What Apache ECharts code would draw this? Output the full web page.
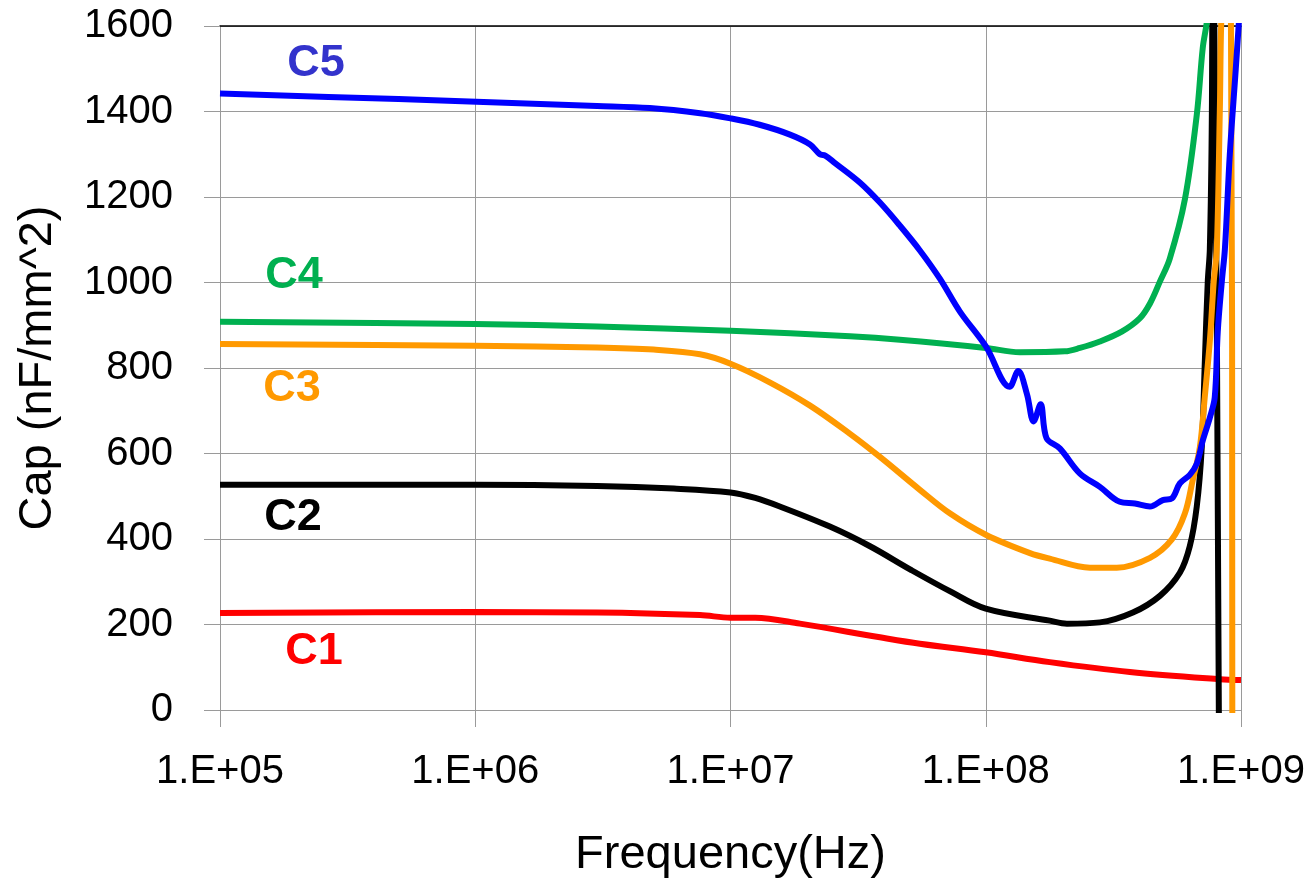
<!DOCTYPE html>
<html>
<head>
<meta charset="utf-8">
<script src="https://cdn.jsdelivr.net/npm/echarts@6/dist/echarts.min.js"></script>
<style>
html,body{margin:0;padding:0;background:#fff;}
#chart{width:1314px;height:884px;}
</style>
</head>
<body>
<div id="chart"></div>
<script>
// ---- Data (frequency in Hz, capacitance in nF/mm^2) ----
var xTickLabels = ['1.E+05', '1.E+06', '1.E+07', '1.E+08', '1.E+09'];
var yTickValues = [0, 200, 400, 600, 800, 1000, 1200, 1400, 1600];
var seriesNames = ['C1', 'C2', 'C3', 'C4', 'C5'];

var c1Freq = [1e5, 1e6, 3e6, 7.6e6, 1e7, 1.25e7, 1.87e7, 3.85e7, 5.52e7, 1e8, 1.78e8, 3.67e8, 8.26e8, 1e9];
var c1Cap  = [227, 229, 228, 222, 216, 216, 202, 170, 155, 135, 112, 89, 72, 70];

var c2Freq = [1e5, 1e6, 3e6, 6e6, 1e7, 1.25e7, 1.56e7, 2.45e7, 3.52e7, 5.05e7, 7.23e7, 1e8, 1.78e8, 2.08e8, 2.8e8, 3.77e8, 4.81e8, 5.76e8, 6.3e8, 6.71e8, 7.02e8, 7.21e8, 7.41e8, 7.55e8, 7.69e8, 7.76e8, 8.22e8];
var c2Cap  = [527, 527, 524, 518, 509, 496, 476, 429, 383, 329, 278, 237, 209, 202, 205, 228, 267, 321, 383, 476, 615, 808, 1002, 1079, 1400, 2000, -200];

var c3Freq = [1e5, 1e6, 3e6, 5e6, 7.6e6, 1e7, 1.43e7, 2.05e7, 2.94e7, 3.85e7, 5.52e7, 7.23e7, 1e8, 1.49e8, 1.78e8, 2.56e8, 3.26e8, 4.4e8, 5.36e8, 6.03e8, 6.47e8, 6.9e8, 7.21e8, 7.55e8, 7.82e8, 8.04e8, 8.26e8, 8.41e8, 9.08e8, 9.25e8];
var c3Cap  = [856, 852, 848, 843, 832, 810, 766, 712, 646, 592, 515, 460, 410, 367, 354, 333, 333, 356, 399, 460, 538, 615, 731, 863, 1002, 1079, 1400, 1650, 2000, -200];

var c4Freq = [1e5, 1e6, 3e6, 1e7, 2.94e7, 4.61e7, 1e8, 1.36e8, 2.04e8, 2.34e8, 2.8e8, 3.41e8, 4.01e8, 4.4e8, 4.81e8, 5.26e8, 6.03e8, 6.71e8, 7.08e8, 7.35e8, 7.6e8];
var c4Cap  = [908, 903, 897, 887, 874, 866, 847, 837, 839, 847, 862, 885, 916, 951, 1002, 1056, 1195, 1392, 1548, 1610, 1700];

var c5Freq = [1e5, 5e5, 3e6, 4.83e6, 7.6e6, 1e7, 1.3e7, 1.71e7, 2.05e7, 2.24e7, 2.35e7, 2.56e7, 3.21e7, 3.85e7, 4.61e7, 5.52e7, 6.61e7, 7.92e7, 1e8, 1.24e8, 1.34e8, 1.45e8, 1.54e8, 1.64e8, 1.73e8, 1.95e8, 2.34e8, 2.8e8, 3.35e8, 3.84e8, 4.4e8, 4.94e8, 5.36e8, 5.76e8, 6.3e8, 6.71e8, 7.08e8, 7.55e8, 7.89e8, 8.11e8, 8.41e8, 8.65e8, 9.04e8, 9.54e8, 9.89e8];
var c5Cap  = [1442, 1429, 1413, 1408, 1396, 1384, 1369, 1346, 1323, 1300, 1297, 1280, 1234, 1187, 1133, 1075, 1009, 932, 851, 756, 793, 739, 675, 715, 636, 612, 553, 522, 487, 483, 476, 491, 495, 530, 550, 576, 630, 684, 731, 886, 1002, 1079, 1300, 1500, 1640];

var lineColors  = ['#ff0000', '#000000', '#ff9900', '#00b050', '#0000ff'];
var labelColors = ['#ff0000', '#000000', '#ff9900', '#00b050', '#3333cc'];

function zip(f, v) { return f.map(function (x, i) { return [x, v[i]]; }); }
var allData = [zip(c1Freq, c1Cap), zip(c2Freq, c2Cap), zip(c3Freq, c3Cap), zip(c4Freq, c4Cap), zip(c5Freq, c5Cap)];

var FONT = '"Liberation Sans", Arial, Helvetica, sans-serif';
var GRID = '#9a9a9a';

var chart = echarts.init(document.getElementById('chart'), null, { renderer: 'canvas' });

// label positions (pixels) for the curve names
var labelPos = [[314, 652], [293, 518], [292, 389], [294, 276], [316, 64]];

var option = {
  backgroundColor: '#ffffff',
  animation: false,
  grid: { left: 220, right: 73, top: 26, bottom: 169, containLabel: false },
  xAxis: [{
    type: 'log',
    logBase: 10,
    min: 1e5,
    max: 1e9,
    name: 'Frequency(Hz)',
    nameLocation: 'middle',
    nameGap: 122,
    nameTextStyle: { fontFamily: FONT, fontSize: 47, color: '#000' },
    axisLine: { show: true, lineStyle: { color: GRID, width: 1 } },
    axisTick: { show: true, inside: false, length: 17, lineStyle: { color: GRID } },
    minorTick: { show: false },
    splitLine: { show: true, lineStyle: { color: GRID, width: 1 } },
    axisLabel: {
      fontFamily: FONT, fontSize: 40, color: '#000', margin: 42,
      formatter: function (v) {
        var e = Math.round(Math.log10(v));
        return xTickLabels[e - 5] || '';
      }
    }
  }, {
    type: 'log',
    logBase: 10,
    min: 1e5,
    max: 1e9,
    position: 'top',
    axisLine: { show: true, lineStyle: { color: '#000', width: 1.5 } },
    axisTick: { show: false },
    axisLabel: { show: false },
    splitLine: { show: false }
  }],
  yAxis: {
    type: 'value',
    min: yTickValues[0],
    max: yTickValues[yTickValues.length - 1],
    interval: 200,
    name: 'Cap (nF/mm^2)',
    nameLocation: 'middle',
    nameGap: 158,
    nameRotate: 90,
    nameTextStyle: { fontFamily: FONT, fontSize: 47, color: '#000' },
    axisLine: { show: true, lineStyle: { color: GRID, width: 1 } },
    axisTick: { show: true, inside: false, length: 16, lineStyle: { color: GRID } },
    splitLine: { show: true, lineStyle: { color: GRID, width: 1 } },
    axisLabel: {
      fontFamily: FONT, fontSize: 40, color: '#000', margin: 47,
      formatter: function (v) { return String(v); }
    }
  },
  series: seriesNames.map(function (n, i) {
    return {
      name: n,
      type: 'line',
      xAxisIndex: 0,
      data: allData[i],
      showSymbol: false,
      smooth: 0.35,
      clip: true,
      lineStyle: { color: lineColors[i], width: 6 },
      itemStyle: { color: lineColors[i] },
      z: 2 + i
    };
  }),
  graphic: seriesNames.map(function (n, i) {
    return {
      type: 'text',
      x: labelPos[i][0],
      y: labelPos[i][1],
      style: {
        text: n,
        fontFamily: FONT,
        fontWeight: 'bold',
        fontSize: 45,
        fill: labelColors[i],
        align: 'center',
        verticalAlign: 'middle'
      },
      z: 100
    };
  })
};
chart.setOption(option);
</script>
</body>
</html>
